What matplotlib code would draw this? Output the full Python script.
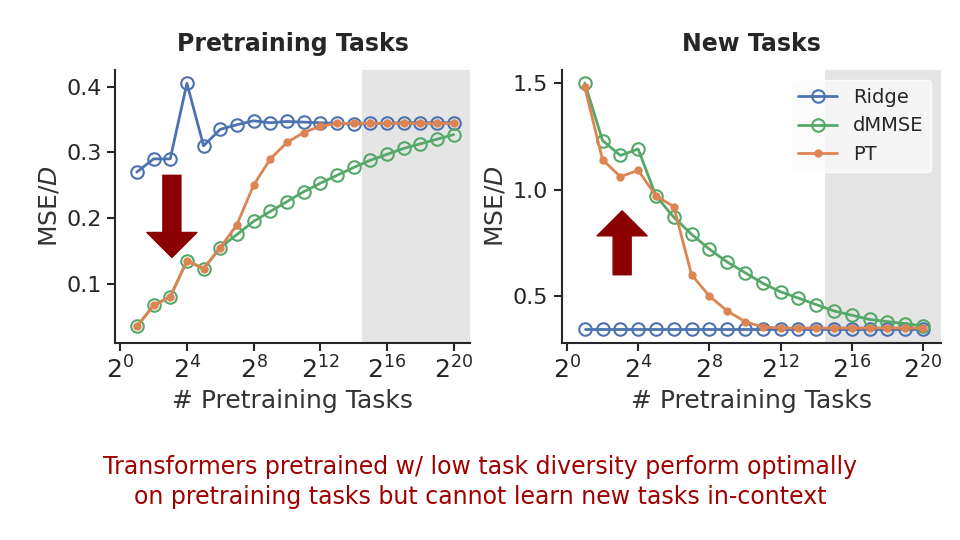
import matplotlib
matplotlib.use("Agg")
import matplotlib.pyplot as plt
import seaborn as sns

sns.set_theme(style="ticks", font_scale=1.0)
plt.rcParams['font.family'] = ['DejaVu Sans']

exps = list(range(1, 21))
ridge_pre = [0.27,0.29,0.29,0.405,0.31,0.335,0.342,0.348,0.345,0.347,0.346,0.345,0.344,0.343,0.344,0.344,0.345,0.345,0.345,0.345]
dmmse_pre = [0.035,0.067,0.08,0.135,0.123,0.155,0.175,0.195,0.21,0.225,0.24,0.253,0.265,0.277,0.288,0.297,0.306,0.313,0.32,0.327]
pt_pre = [0.035,0.067,0.08,0.135,0.123,0.155,0.19,0.25,0.29,0.315,0.33,0.34,0.344,0.344,0.344,0.344,0.344,0.344,0.344,0.344]
ridge_new = [0.345]*20
dmmse_new = [1.5,1.23,1.16,1.19,0.97,0.87,0.79,0.72,0.66,0.61,0.56,0.52,0.49,0.46,0.43,0.41,0.39,0.38,0.37,0.36]
pt_new = [1.48,1.14,1.06,1.09,0.97,0.92,0.6,0.5,0.43,0.38,0.355,0.35,0.35,0.35,0.35,0.35,0.35,0.35,0.35,0.35]
xticks = [0, 4, 8, 12, 16, 20]

blue, green, orange = "#4c72b0", "#55a868", "#dd8452"
fig = plt.figure(figsize=(9.6, 5.4), dpi=100)
ax1 = fig.add_axes([0.12, 0.365, 0.37, 0.505])
ax2 = fig.add_axes([0.585, 0.365, 0.395, 0.505])

def draw(ax, r, d, p, title, ylim, yticks):
    ax.axvspan(14.5, 21, color="#e5e5e5", zorder=0, lw=0)
    ax.plot(exps, r, "-o", color=blue, mfc="none", ms=9, mew=1.5, lw=2, label="Ridge")
    ax.plot(exps, d, "-o", color=green, mfc="none", ms=9, mew=1.5, lw=2, label="dMMSE")
    ax.plot(exps, p, "-o", color=orange, ms=5, lw=2, label="PT")
    ax.set_xlim(-0.3, 21)
    ax.set_ylim(*ylim)
    ax.set_yticks(yticks)
    ax.set_xticks(xticks)
    ax.set_xticklabels([f"$2^{{{t}}}$" for t in xticks], fontsize=18)
    ax.tick_params(axis="y", labelsize=16, length=6, width=1.5)
    ax.tick_params(axis="x", length=6, width=1.5)
    ax.set_xlabel("# Pretraining Tasks", fontsize=18, color="#333333")
    ax.set_ylabel("MSE/$D$", fontsize=18, color="#333333")
    ax.set_title(title, fontsize=17, fontweight="bold", pad=14)
    for s in ["top", "right"]:
        ax.spines[s].set_visible(False)
    for s in ["left", "bottom"]:
        ax.spines[s].set_linewidth(1.5)

draw(ax1, ridge_pre, dmmse_pre, pt_pre, "Pretraining Tasks", (0.01, 0.425), [0.1, 0.2, 0.3, 0.4])
draw(ax2, ridge_new, dmmse_new, pt_new, "New Tasks", (0.28, 1.56), [0.5, 1.0, 1.5])
ax2.legend(loc="upper right", fontsize=14, frameon=True, edgecolor="white", facecolor="#fafafa")
ax1.annotate("", xy=(3.1, 0.14), xytext=(3.1, 0.265),
             arrowprops=dict(facecolor="#8b0000", edgecolor="#8b0000", width=13, headwidth=36, headlength=18))
ax2.annotate("", xy=(3.1, 0.9), xytext=(3.1, 0.6),
             arrowprops=dict(facecolor="#8b0000", edgecolor="#8b0000", width=13, headwidth=36, headlength=18))
fig.text(0.5, 0.108, "Transformers pretrained w/ low task diversity perform optimally\non pretraining tasks but cannot learn new tasks in-context",
         ha="center", va="center", fontsize=17, color="#a00000", linespacing=1.3)
fig.savefig("out.png", dpi=100)
